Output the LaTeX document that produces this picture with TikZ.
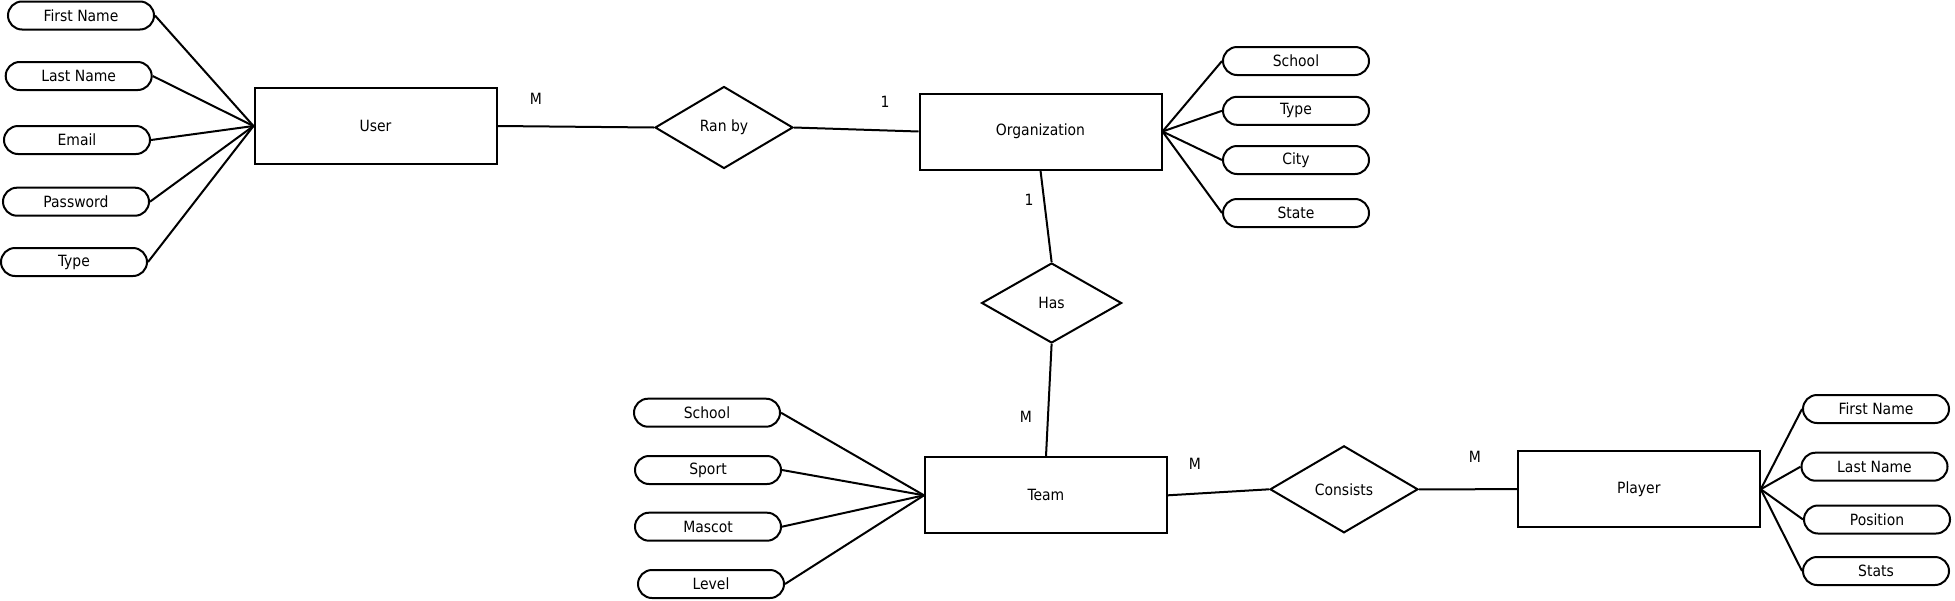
\documentclass[tikz,border=0pt]{standalone}
\usepackage{fontspec}
\setmainfont{DejaVu Sans Condensed}
\usetikzlibrary{shapes.geometric}

\tikzset{
  entity/.style={draw, line width=2pt, minimum width=242pt, minimum height=76pt, inner sep=0pt},
  attr/.style={draw, line width=2pt, rounded corners=14pt, minimum width=146pt, minimum height=28pt, inner sep=0pt},
  relation/.style={draw, diamond, line width=2pt, inner sep=0pt},
  card/.style={inner sep=0pt},
  link/.style={line width=2pt}
}

\begin{document}
\begin{tikzpicture}[x=1pt, y=-1pt, font=\fontsize{15.5}{18}\selectfont]
        \useasboundingbox (0,0) rectangle (1955,600);

        % Entidades
        \node[entity] (user) at (375.5,126) {User};
        \node[entity] (org) at (1040.5,131.5) {Organization};
        \node[entity] (team) at (1046,495.3) {Team};
        \node[entity] (player) at (1638.8,489.2) {Player};

        % Relaciones
        \node[relation, minimum width=138pt, minimum height=82pt] (ranby) at (724,127.5) {Ran by};
        \node[relation, minimum width=140pt, minimum height=80pt] (has) at (1051.6,303) {Has};
        \node[relation, minimum width=148pt, minimum height=87pt] (consists) at (1344,489.3) {Consists};

        % Uniones
        \draw[link] (user.east) -- (ranby.west);
        \draw[link] (ranby.east) -- (org.west);
        \draw[link] (org.south) -- (has.north);
        \draw[link] (has.south) -- (team.north);
        \draw[link] (team.east) -- (consists.west);
        \draw[link] (consists.east) -- (player.west);

        % Cardinalidades
        \node[card] (cUser) at (536,99) {M};
        \node[card] (cOrgA) at (885,102) {1};
        \node[card] (cOrgB) at (1029,200) {1};
        \node[card] (cTeamA) at (1026,417) {M};
        \node[card] (cTeamB) at (1195,464) {M};
        \node[card] (cPlayer) at (1475,457) {M};

        % Atributos
        \foreach \x/\y/\name [count=\i] in {81/15.5/First Name, 78.7/76/Last Name, 77/140/Email, 76/201.7/Password, 74/262/Type}
        {
          \node[attr] (user\i) at (\x,\y) {\name};
          \draw[link] (user\i.east) -- (user.west);
        }
        \foreach \y/\name [count=\i] in {61/School, 110.8/Type, 160/City, 213/State}
        {
          \node[attr] (org\i) at (1296,\y) {\name};
          \draw[link] (org.east) -- (org\i.west);
        }
        \foreach \x/\y/\name [count=\i] in {707/412.7/School, 708/470/Sport, 708/526.7/Mascot, 711/584/Level}
        {
          \node[attr] (team\i) at (\x,\y) {\name};
          \draw[link] (team\i.east) -- (team.west);
        }
        \foreach \x/\y/\name [count=\i] in {1876/409/First Name, 1874.5/466.7/Last Name, 1877/519.5/Position, 1876/571/Stats}
        {
          \node[attr] (player\i) at (\x,\y) {\name};
          \draw[link] (player.east) -- (player\i.west);
        }
    \end{tikzpicture}
\end{document}
